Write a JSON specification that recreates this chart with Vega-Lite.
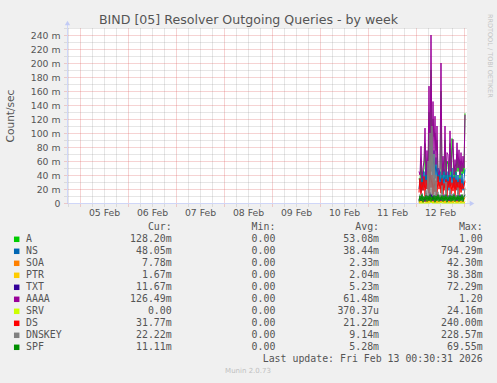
{
"$schema":"https://vega.github.io/schema/vega-lite/v6.json",
"width":400,"height":175,
"autosize":{"type":"none"},
"padding":{"left":67,"top":28,"right":30,"bottom":180},
"background":"#f0f0f0",
"config":{"view":{"stroke":null,"fill":"#ffffff"},"font":"DejaVu Sans"},
"title":{"text":"BIND [05] Resolver Outgoing Queries - by week","fontSize":12.6,"font":"DejaVu Sans","fontWeight":"normal","color":"#555555","anchor":"middle","frame":"group","dx":-18.5,"dy":13,"offset":0},
"layer":[
{"data":{"values":[
{"t":"2026-02-12T01:30:00","A":0.035,"NS":0.020,"SOA":0,"PTR":0.001,"TXT":0.004,"AAAA":0.045,"SRV":0,"DS":0.015,"DNSKEY":0.003,"SPF":0.002},
{"t":"2026-02-12T02:00:00","A":0.030,"NS":0.035,"SOA":0.004,"PTR":0,"TXT":0.010,"AAAA":0.040,"SRV":0,"DS":0.035,"DNSKEY":0.012,"SPF":0.010},
{"t":"2026-02-12T02:30:00","A":0.060,"NS":0.015,"SOA":0.001,"PTR":0.003,"TXT":0.003,"AAAA":0.081,"SRV":0,"DS":0.012,"DNSKEY":0.005,"SPF":0.003},
{"t":"2026-02-12T03:00:00","A":0.028,"NS":0.040,"SOA":0.006,"PTR":0,"TXT":0.012,"AAAA":0.035,"SRV":0,"DS":0.030,"DNSKEY":0.014,"SPF":0.012},
{"t":"2026-02-12T03:30:00","A":0.040,"NS":0.018,"SOA":0,"PTR":0.002,"TXT":0.005,"AAAA":0.050,"SRV":0,"DS":0.018,"DNSKEY":0.004,"SPF":0.001},
{"t":"2026-02-12T04:00:00","A":0.050,"NS":0.045,"SOA":0.003,"PTR":0.001,"TXT":0.009,"AAAA":0.060,"SRV":0,"DS":0.038,"DNSKEY":0.010,"SPF":0.009},
{"t":"2026-02-12T04:30:00","A":0.085,"NS":0.022,"SOA":0.002,"PTR":0.004,"TXT":0.002,"AAAA":0.107,"SRV":0,"DS":0.010,"DNSKEY":0.006,"SPF":0.004},
{"t":"2026-02-12T05:00:00","A":0.032,"NS":0.050,"SOA":0.008,"PTR":0,"TXT":0.014,"AAAA":0.040,"SRV":0,"DS":0.033,"DNSKEY":0.018,"SPF":0.011},
{"t":"2026-02-12T05:30:00","A":0.060,"NS":0.020,"SOA":0,"PTR":0.002,"TXT":0.006,"AAAA":0.075,"SRV":0,"DS":0.020,"DNSKEY":0.005,"SPF":0.002},
{"t":"2026-02-12T06:00:00","A":0.038,"NS":0.055,"SOA":0.005,"PTR":0,"TXT":0.011,"AAAA":0.045,"SRV":0,"DS":0.045,"DNSKEY":0.060,"SPF":0.010},
{"t":"2026-02-12T06:30:00","A":0.130,"NS":0.030,"SOA":0.001,"PTR":0.003,"TXT":0.004,"AAAA":0.167,"SRV":0,"DS":0.014,"DNSKEY":0.008,"SPF":0.003},
{"t":"2026-02-12T07:00:00","A":0.045,"NS":0.070,"SOA":0.007,"PTR":0.001,"TXT":0.015,"AAAA":0.050,"SRV":0,"DS":0.050,"DNSKEY":0.100,"SPF":0.012},
{"t":"2026-02-12T07:30:00","A":0.190,"NS":0.045,"SOA":0.002,"PTR":0.005,"TXT":0.008,"AAAA":0.240,"SRV":0.002,"DS":0.022,"DNSKEY":0.012,"SPF":0.002},
{"t":"2026-02-12T08:00:00","A":0.055,"NS":0.080,"SOA":0.009,"PTR":0,"TXT":0.013,"AAAA":0.060,"SRV":0,"DS":0.040,"DNSKEY":0.110,"SPF":0.009},
{"t":"2026-02-12T08:30:00","A":0.120,"NS":0.040,"SOA":0,"PTR":0.002,"TXT":0.003,"AAAA":0.145,"SRV":0,"DS":0.012,"DNSKEY":0.010,"SPF":0.004},
{"t":"2026-02-12T09:00:00","A":0.095,"NS":0.075,"SOA":0.004,"PTR":0,"TXT":0.010,"AAAA":0.070,"SRV":0,"DS":0.036,"DNSKEY":0.070,"SPF":0.011},
{"t":"2026-02-12T09:30:00","A":0.100,"NS":0.035,"SOA":0.001,"PTR":0.003,"TXT":0.005,"AAAA":0.124,"SRV":0,"DS":0.016,"DNSKEY":0.006,"SPF":0.001},
{"t":"2026-02-12T10:00:00","A":0.075,"NS":0.065,"SOA":0.006,"PTR":0.001,"TXT":0.012,"AAAA":0.055,"SRV":0,"DS":0.032,"DNSKEY":0.040,"SPF":0.010},
{"t":"2026-02-12T10:30:00","A":0.090,"NS":0.030,"SOA":0,"PTR":0.002,"TXT":0.004,"AAAA":0.110,"SRV":0,"DS":0.011,"DNSKEY":0.005,"SPF":0.003},
{"t":"2026-02-12T11:00:00","A":0.038,"NS":0.050,"SOA":0.003,"PTR":0,"TXT":0.009,"AAAA":0.045,"SRV":0,"DS":0.038,"DNSKEY":0.016,"SPF":0.012},
{"t":"2026-02-12T11:30:00","A":0.035,"NS":0.025,"SOA":0.002,"PTR":0.003,"TXT":0.006,"AAAA":0.040,"SRV":0,"DS":0.020,"DNSKEY":0.004,"SPF":0.002},
{"t":"2026-02-12T12:00:00","A":0.042,"NS":0.045,"SOA":0.005,"PTR":0,"TXT":0.011,"AAAA":0.050,"SRV":0,"DS":0.030,"DNSKEY":0.012,"SPF":0.009},
{"t":"2026-02-12T12:30:00","A":0.160,"NS":0.020,"SOA":0,"PTR":0.002,"TXT":0.003,"AAAA":0.200,"SRV":0.001,"DS":0.014,"DNSKEY":0.006,"SPF":0.004},
{"t":"2026-02-12T13:00:00","A":0.035,"NS":0.040,"SOA":0.004,"PTR":0.001,"TXT":0.010,"AAAA":0.040,"SRV":0,"DS":0.035,"DNSKEY":0.025,"SPF":0.011},
{"t":"2026-02-12T13:30:00","A":0.055,"NS":0.018,"SOA":0.001,"PTR":0.004,"TXT":0.005,"AAAA":0.067,"SRV":0,"DS":0.012,"DNSKEY":0.003,"SPF":0.002},
{"t":"2026-02-12T14:00:00","A":0.040,"NS":0.048,"SOA":0.006,"PTR":0,"TXT":0.012,"AAAA":0.045,"SRV":0,"DS":0.028,"DNSKEY":0.010,"SPF":0.010},
{"t":"2026-02-12T14:30:00","A":0.090,"NS":0.022,"SOA":0,"PTR":0.002,"TXT":0.004,"AAAA":0.110,"SRV":0,"DS":0.018,"DNSKEY":0.005,"SPF":0.003},
{"t":"2026-02-12T15:00:00","A":0.035,"NS":0.042,"SOA":0.003,"PTR":0,"TXT":0.009,"AAAA":0.040,"SRV":0,"DS":0.034,"DNSKEY":0.030,"SPF":0.012},
{"t":"2026-02-12T15:30:00","A":0.060,"NS":0.020,"SOA":0.002,"PTR":0.003,"TXT":0.006,"AAAA":0.072,"SRV":0,"DS":0.010,"DNSKEY":0.004,"SPF":0.001},
{"t":"2026-02-12T16:00:00","A":0.055,"NS":0.045,"SOA":0.005,"PTR":0.001,"TXT":0.011,"AAAA":0.069,"SRV":0,"DS":0.031,"DNSKEY":0.009,"SPF":0.009},
{"t":"2026-02-12T16:30:00","A":0.035,"NS":0.018,"SOA":0,"PTR":0.002,"TXT":0.003,"AAAA":0.040,"SRV":0,"DS":0.022,"DNSKEY":0.006,"SPF":0.004},
{"t":"2026-02-12T17:00:00","A":0.085,"NS":0.040,"SOA":0.004,"PTR":0,"TXT":0.010,"AAAA":0.103,"SRV":0,"DS":0.037,"DNSKEY":0.020,"SPF":0.011},
{"t":"2026-02-12T17:30:00","A":0.040,"NS":0.025,"SOA":0.001,"PTR":0.003,"TXT":0.005,"AAAA":0.045,"SRV":0,"DS":0.013,"DNSKEY":0.003,"SPF":0.002},
{"t":"2026-02-12T18:00:00","A":0.092,"NS":0.050,"SOA":0.006,"PTR":0,"TXT":0.012,"AAAA":0.069,"SRV":0,"DS":0.029,"DNSKEY":0.012,"SPF":0.010},
{"t":"2026-02-12T18:30:00","A":0.075,"NS":0.022,"SOA":0,"PTR":0.002,"TXT":0.004,"AAAA":0.091,"SRV":0,"DS":0.017,"DNSKEY":0.005,"SPF":0.003},
{"t":"2026-02-12T19:00:00","A":0.035,"NS":0.038,"SOA":0.003,"PTR":0.001,"TXT":0.009,"AAAA":0.040,"SRV":0,"DS":0.036,"DNSKEY":0.014,"SPF":0.012},
{"t":"2026-02-12T19:30:00","A":0.050,"NS":0.020,"SOA":0.002,"PTR":0.003,"TXT":0.006,"AAAA":0.062,"SRV":0,"DS":0.011,"DNSKEY":0.004,"SPF":0.002},
{"t":"2026-02-12T20:00:00","A":0.040,"NS":0.044,"SOA":0.005,"PTR":0,"TXT":0.011,"AAAA":0.045,"SRV":0,"DS":0.033,"DNSKEY":0.010,"SPF":0.009},
{"t":"2026-02-12T20:30:00","A":0.070,"NS":0.018,"SOA":0,"PTR":0.002,"TXT":0.003,"AAAA":0.086,"SRV":0,"DS":0.019,"DNSKEY":0.006,"SPF":0.004},
{"t":"2026-02-12T21:00:00","A":0.045,"NS":0.040,"SOA":0.004,"PTR":0,"TXT":0.010,"AAAA":0.050,"SRV":0,"DS":0.030,"DNSKEY":0.022,"SPF":0.011},
{"t":"2026-02-12T21:30:00","A":0.062,"NS":0.022,"SOA":0.001,"PTR":0.003,"TXT":0.005,"AAAA":0.076,"SRV":0,"DS":0.012,"DNSKEY":0.003,"SPF":0.002},
{"t":"2026-02-12T22:00:00","A":0.035,"NS":0.036,"SOA":0.006,"PTR":0.001,"TXT":0.012,"AAAA":0.040,"SRV":0,"DS":0.034,"DNSKEY":0.009,"SPF":0.010},
{"t":"2026-02-12T22:30:00","A":0.060,"NS":0.020,"SOA":0,"PTR":0.002,"TXT":0.004,"AAAA":0.072,"SRV":0,"DS":0.015,"DNSKEY":0.005,"SPF":0.003},
{"t":"2026-02-12T23:00:00","A":0.040,"NS":0.042,"SOA":0.003,"PTR":0,"TXT":0.009,"AAAA":0.045,"SRV":0,"DS":0.028,"DNSKEY":0.012,"SPF":0.012},
{"t":"2026-02-12T23:30:00","A":0.055,"NS":0.018,"SOA":0.002,"PTR":0.003,"TXT":0.006,"AAAA":0.067,"SRV":0,"DS":0.020,"DNSKEY":0.004,"SPF":0.002},
{"t":"2026-02-13T00:00:00","A":0.042,"NS":0.035,"SOA":0.005,"PTR":0,"TXT":0.010,"AAAA":0.050,"SRV":0,"DS":0.024,"DNSKEY":0.010,"SPF":0.009},
{"t":"2026-02-13T00:30:00","A":0.128,"NS":0.048,"SOA":0.008,"PTR":0.002,"TXT":0.012,"AAAA":0.126,"SRV":0,"DS":0.032,"DNSKEY":0.022,"SPF":0.011}
]},
"transform":[{"fold":["A","NS","SOA","PTR","TXT","AAAA","SRV","DS","DNSKEY","SPF"],"as":["series","value"]}],
"mark":{"type":"line","strokeWidth":1},
"encoding":{
"x":{"field":"t","type":"temporal","scale":{"domain":["2026-02-04T17:30:00","2026-02-13T01:30:00"],"nice":false},
"axis":{"tickCount":{"interval":"hours","step":6},"labelExpr":"hours(datum.value) == 0 && date(datum.value) != 13 ? timeFormat(datum.value, '%d %b') : ''","labelOffset":24,"labelOverlap":false,"labelFlush":false,"labelBound":false,"labelAlign":"center",
"grid":true,"gridColor":{"condition":{"test":"hours(datum.value) == 0","value":"rgba(222,79,79,0.5)"},"value":"rgba(143,143,143,0.45)"},"gridDash":[1,1],
"ticks":true,"tickSize":3,"tickColor":{"condition":{"test":"hours(datum.value) == 0","value":"rgba(222,79,79,0.5)"},"value":"rgba(143,143,143,0.45)"},"tickDash":[1,1],
"domainColor":"#cfd6f8","labelFontSize":9.3,"labelColor":"#555555","labelPadding":2,"labelFont":"DejaVu Sans","title":null}},
"y":{"field":"value","type":"quantitative","scale":{"domain":[0,0.25],"nice":false,"zero":true},
"axis":{"values":[0,0.01,0.02,0.03,0.04,0.05,0.06,0.07,0.08,0.09,0.1,0.11,0.12,0.13,0.14,0.15,0.16,0.17,0.18,0.19,0.2,0.21,0.22,0.23,0.24,0.25],
"labelExpr":"round(datum.value*1000) % 20 != 0 || datum.value > 0.245 ? '' : (datum.value == 0 ? '0' : format(datum.value*1000,'d') + ' m')","labelOverlap":false,"labelBound":false,"labelFlush":false,
"grid":true,"gridColor":{"condition":{"test":"round(datum.value*1000) % 20 == 0","value":"rgba(222,79,79,0.5)"},"value":"rgba(143,143,143,0.45)"},"gridDash":[1,1],
"ticks":true,"tickSize":3,"tickColor":{"condition":{"test":"round(datum.value*1000) % 20 == 0","value":"rgba(222,79,79,0.5)"},"value":"rgba(143,143,143,0.45)"},"tickDash":[1,1],
"domainColor":"#cfd6f8","labelFontSize":9.3,"labelColor":"#555555","labelPadding":4,"labelFont":"DejaVu Sans","title":"Count/sec","titleFontSize":10.6,"titleFontWeight":"normal","titleColor":"#555555","titleFont":"DejaVu Sans","titlePadding":15}},
"color":{"field":"series","type":"nominal","scale":{"domain":["A","NS","SOA","PTR","TXT","AAAA","SRV","DS","DNSKEY","SPF"],"range":["#00cc00","#0066b3","#ff8000","#ffcc00","#330099","#990099","#ccff00","#ff0000","#808080","#008f00"]},"legend":null}}},
{
"data":{"values":[
{"name":"A","cur":"128.20m","min":"0.00\u00a0","avg":"53.08m","max":"1.00\u00a0"},
{"name":"NS","cur":"48.05m","min":"0.00\u00a0","avg":"38.44m","max":"794.29m"},
{"name":"SOA","cur":"7.78m","min":"0.00\u00a0","avg":"2.33m","max":"42.30m"},
{"name":"PTR","cur":"1.67m","min":"0.00\u00a0","avg":"2.04m","max":"38.38m"},
{"name":"TXT","cur":"11.67m","min":"0.00\u00a0","avg":"5.23m","max":"72.29m"},
{"name":"AAAA","cur":"126.49m","min":"0.00\u00a0","avg":"61.48m","max":"1.20\u00a0"},
{"name":"SRV","cur":"0.00\u00a0","min":"0.00\u00a0","avg":"370.37u","max":"24.16m"},
{"name":"DS","cur":"31.77m","min":"0.00\u00a0","avg":"21.22m","max":"240.00m"},
{"name":"DNSKEY","cur":"22.22m","min":"0.00\u00a0","avg":"9.14m","max":"228.57m"},
{"name":"SPF","cur":"11.11m","min":"0.00\u00a0","avg":"5.28m","max":"69.55m"}
]},
"layer":[
{"mark":{"type":"square","size":30,"filled":true,"opacity":1},
"encoding":{
"x":{"datum":"swatch","type":"nominal","scale":{"type":"point","domain":["swatch"],"range":[-50.3,-50.3]},"axis":null},
"y":{"field":"name","type":"nominal","scale":{"type":"point","domain":["hdr","A","NS","SOA","PTR","TXT","AAAA","SRV","DS","DNSKEY","SPF","last","munin"],"range":[199.3,343.3],"padding":0},"axis":null},
"color":{"field":"name","type":"nominal","scale":{"domain":["A","NS","SOA","PTR","TXT","AAAA","SRV","DS","DNSKEY","SPF"],"range":["#00cc00","#0066b3","#ff8000","#ffcc00","#330099","#990099","#ccff00","#ff0000","#808080","#008f00"]},"legend":null}}},
{"mark":{"type":"text","align":"left","baseline":"middle","font":"DejaVu Sans Mono","fontSize":9.9,"color":"#555555"},
"encoding":{
"x":{"datum":"name","type":"nominal","scale":{"type":"point","domain":["name"],"range":[-41,-41]},"axis":null},
"y":{"field":"name","type":"nominal","scale":{"type":"point","domain":["hdr","A","NS","SOA","PTR","TXT","AAAA","SRV","DS","DNSKEY","SPF","last","munin"],"range":[199.3,343.3],"padding":0},"axis":null},
"text":{"field":"name"}}},
{"transform":[{"fold":["cur","min","avg","max"],"as":["col","txt"]}],
"mark":{"type":"text","align":"right","baseline":"middle","font":"DejaVu Sans Mono","fontSize":9.9,"color":"#555555"},
"encoding":{
"x":{"field":"col","type":"nominal","scale":{"type":"point","domain":["cur","min","avg","max"],"range":[104.7,415.7],"padding":0},"axis":null},
"y":{"field":"name","type":"nominal","scale":{"type":"point","domain":["hdr","A","NS","SOA","PTR","TXT","AAAA","SRV","DS","DNSKEY","SPF","last","munin"],"range":[199.3,343.3],"padding":0},"axis":null},
"text":{"field":"txt"}}},
{"data":{"values":[{"col":"cur","h":"Cur:\u00a0\u00a0"},{"col":"min","h":"Min:\u00a0\u00a0"},{"col":"avg","h":"Avg:\u00a0\u00a0"},{"col":"max","h":"Max:\u00a0\u00a0"}]},
"mark":{"type":"text","align":"right","baseline":"middle","font":"DejaVu Sans Mono","fontSize":9.9,"color":"#555555"},
"encoding":{
"x":{"field":"col","type":"nominal","scale":{"type":"point","domain":["cur","min","avg","max"],"range":[104.7,415.7],"padding":0},"axis":null},
"y":{"datum":"hdr","type":"nominal","scale":{"type":"point","domain":["hdr","A","NS","SOA","PTR","TXT","AAAA","SRV","DS","DNSKEY","SPF","last","munin"],"range":[199.3,343.3],"padding":0},"axis":null},
"text":{"field":"h"}}},
{"data":{"values":[{"col":"max","t":"Last update: Fri Feb 13 00:30:31 2026"}]},
"mark":{"type":"text","align":"right","baseline":"middle","font":"DejaVu Sans Mono","fontSize":9.9,"color":"#555555"},
"encoding":{
"x":{"field":"col","type":"nominal","scale":{"type":"point","domain":["cur","min","avg","max"],"range":[104.7,415.7],"padding":0},"axis":null},
"y":{"datum":"last","type":"nominal","scale":{"type":"point","domain":["hdr","A","NS","SOA","PTR","TXT","AAAA","SRV","DS","DNSKEY","SPF","last","munin"],"range":[199.3,343.3],"padding":0},"axis":null},
"text":{"field":"t"}}},
{"data":{"values":[{"t":"Munin 2.0.73"}]},
"mark":{"type":"text","align":"center","baseline":"middle","font":"DejaVu Sans","fontSize":7,"color":"#c0c0c0"},
"encoding":{
"x":{"datum":"mid","type":"nominal","scale":{"type":"point","domain":["mid"],"range":[181,181]},"axis":null},
"y":{"datum":"munin","type":"nominal","scale":{"type":"point","domain":["hdr","A","NS","SOA","PTR","TXT","AAAA","SRV","DS","DNSKEY","SPF","last","munin"],"range":[199.3,343.3],"padding":0},"axis":null},
"text":{"field":"t"}}},
{"data":{"values":[{"t":"RRDTOOL / TOBI OETIKER"}]},
"mark":{"type":"text","angle":90,"align":"left","baseline":"middle","font":"DejaVu Sans","fontSize":6.5,"color":"#c4c4c4"},
"encoding":{
"x":{"datum":"wm","type":"nominal","scale":{"type":"point","domain":["wm"],"range":[423,423]},"axis":null},
"y":{"datum":"wm","type":"nominal","scale":{"type":"point","domain":["wm"],"range":[-14,-14]},"axis":null},
"text":{"field":"t"}}},
{"data":{"values":[{}]},
"mark":{"type":"rule","color":"#cfd6f8","strokeWidth":1},
"encoding":{
"x":{"datum":"ax","type":"nominal","scale":{"type":"point","domain":["ax"],"range":[0.5,0.5]},"axis":null},
"y":{"datum":"top","type":"nominal","scale":{"type":"point","domain":["top","base"],"range":[-4,1],"padding":0},"axis":null},
"y2":{"datum":"base"}}},
{"data":{"values":[{}]},
"mark":{"type":"rule","color":"#cfd6f8","strokeWidth":1},
"encoding":{
"x":{"datum":"base","type":"nominal","scale":{"type":"point","domain":["base","tip"],"range":[399,404],"padding":0},"axis":null},
"x2":{"datum":"tip"},
"y":{"datum":"ax","type":"nominal","scale":{"type":"point","domain":["ax"],"range":[175.5,175.5]},"axis":null}}},
{"data":{"values":[{}]},
"mark":{"type":"point","shape":"triangle-up","filled":true,"color":"#c2cbf5","opacity":1,"size":28},
"encoding":{
"x":{"datum":"ax","type":"nominal","scale":{"type":"point","domain":["ax"],"range":[0.5,0.5]},"axis":null},
"y":{"datum":"ax","type":"nominal","scale":{"type":"point","domain":["ax"],"range":[-5,-5]},"axis":null}}},
{"data":{"values":[{}]},
"mark":{"type":"point","shape":"triangle-right","filled":true,"color":"#c2cbf5","opacity":1,"size":28},
"encoding":{
"x":{"datum":"ax","type":"nominal","scale":{"type":"point","domain":["ax"],"range":[405,405]},"axis":null},
"y":{"datum":"ax","type":"nominal","scale":{"type":"point","domain":["ax"],"range":[175.5,175.5]},"axis":null}}}
],
"resolve":{"scale":{"x":"independent","y":"independent","color":"independent"}}
}
],
"resolve":{"scale":{"x":"independent","y":"independent","color":"independent"}}
}
